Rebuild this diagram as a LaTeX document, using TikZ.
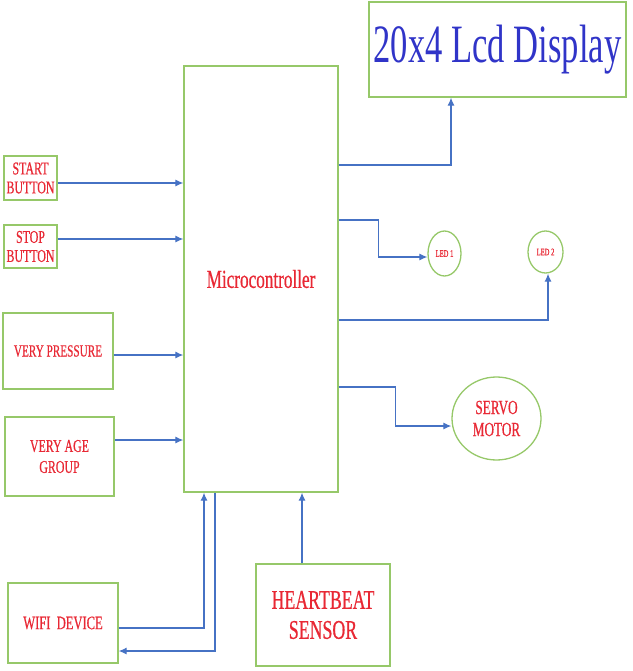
\documentclass[tikz,border=0pt]{standalone}
\usepackage{fontspec}
\usepackage{tikz}
\usetikzlibrary{arrows.meta,shapes.geometric}
\newfontfamily\diagfont[FakeStretch=0.66,FakeBold=0.6]{Liberation Serif}
\newfontfamily\titlefont[FakeStretch=0.64]{Liberation Serif}
\definecolor{boxgreen}{RGB}{150,200,105}
\definecolor{linkblue}{RGB}{70,114,196}
\definecolor{txtred}{RGB}{232,40,52}
\definecolor{txtblue}{RGB}{48,52,200}

\begin{document}
\begin{tikzpicture}[x=1pt,y=-1pt,
  blockbox/.style={draw=boxgreen,line width=1.3pt,inner sep=0pt,align=center,text=txtred,font=\diagfont},
  roundbox/.style={blockbox,ellipse},
  link/.style={draw=linkblue,line width=1.2pt,-{Latex[length=8pt,width=7pt]}}]
\useasboundingbox (0,0) rectangle (632,671);
%Shape: Rectangle [id:lcd]
\node [blockbox,minimum width=257pt,minimum height=95pt,text=txtblue,font=\titlefont\fontsize{54}{58}\selectfont] (lcd) at (497.5,49.5) {20x4 Lcd Display};
%Shape: Rectangle [id:micro]
\node [blockbox,minimum width=154pt,minimum height=426pt,font=\diagfont\fontsize{26}{28}\selectfont] (micro) at (261,279) {Microcontroller};
%Shape: Rectangle [id:start]
\node [blockbox,minimum width=53pt,minimum height=44pt,font=\diagfont\fontsize{18}{19}\selectfont] (start) at (30.5,178) {START\\BUTTON};
%Shape: Rectangle [id:stop]
\node [blockbox,minimum width=53pt,minimum height=43pt,font=\diagfont\fontsize{18}{19}\selectfont] (stop) at (30.5,246.5) {STOP\\BUTTON};
%Shape: Rectangle [id:pressure]
\node [blockbox,minimum width=110pt,minimum height=76pt,font=\diagfont\fontsize{17}{20}\selectfont] (pressure) at (58,351) {VERY PRESSURE};
%Shape: Rectangle [id:age]
\node [blockbox,minimum width=109pt,minimum height=79pt,font=\diagfont\fontsize{18}{21}\selectfont] (age) at (59.5,456.5) {VERY AGE\\GROUP};
%Shape: Rectangle [id:wifi]
\node [blockbox,minimum width=110pt,minimum height=80pt,font=\diagfont\fontsize{19}{22}\selectfont] (wifi) at (63,623) {WIFI\, DEVICE};
%Shape: Rectangle [id:heart]
\node [blockbox,minimum width=134pt,minimum height=102pt,font=\diagfont\fontsize{27}{30}\selectfont] (heart) at (323,615) {HEARTBEAT\\SENSOR};
%Shape: Ellipse [id:led1]
\node [roundbox,minimum width=33pt,minimum height=45pt,font=\diagfont\fontsize{10}{11}\selectfont] (led1) at (444.5,253.5) {LED 1};
%Shape: Ellipse [id:led2]
\node [roundbox,minimum width=35pt,minimum height=42pt,font=\diagfont\fontsize{10}{11}\selectfont] (led2) at (545.5,252) {LED 2};
%Shape: Ellipse [id:servo]
\node [roundbox,minimum width=89pt,minimum height=83pt,font=\diagfont\fontsize{20}{22}\selectfont] (servo) at (496.5,418.5) {SERVO\\MOTOR};
%Straight Lines: inputs
\draw [link] ([yshift=-5pt]start.east) -- ([yshift=-5pt]start.east -| micro.west);
\draw [link] ([yshift=7.5pt]stop.east) -- ([yshift=7.5pt]stop.east -| micro.west);
\draw [link] ([yshift=-4pt]pressure.east) -- ([yshift=-4pt]pressure.east -| micro.west);
\draw [link] ([yshift=16.5pt]age.east) -- ([yshift=16.5pt]age.east -| micro.west);
%Straight Lines: outputs
\draw [link] (micro.east |- 0,165) -| ([xshift=-46.5pt]lcd.south);
\draw [link] (micro.east |- 0,220) -- ++(40,0) |- ([yshift=-3.5pt]led1.west);
\draw [link] (micro.east |- 0,320) -| ([xshift=2.5pt]led2.south);
\draw [link] (micro.east |- 0,387) -- ++(57,0) |- ([yshift=-7.5pt]servo.west);
%Straight Lines: bottom
\draw [link] ([xshift=-21pt]heart.north) -- ([xshift=-21pt]heart.north |- micro.south);
\draw [link] ([yshift=-5pt]wifi.east) -| ([xshift=-57pt]micro.south);
\draw [link] ([xshift=-46pt]micro.south) |- ([yshift=-28pt]wifi.east);
\end{tikzpicture}
\end{document}
